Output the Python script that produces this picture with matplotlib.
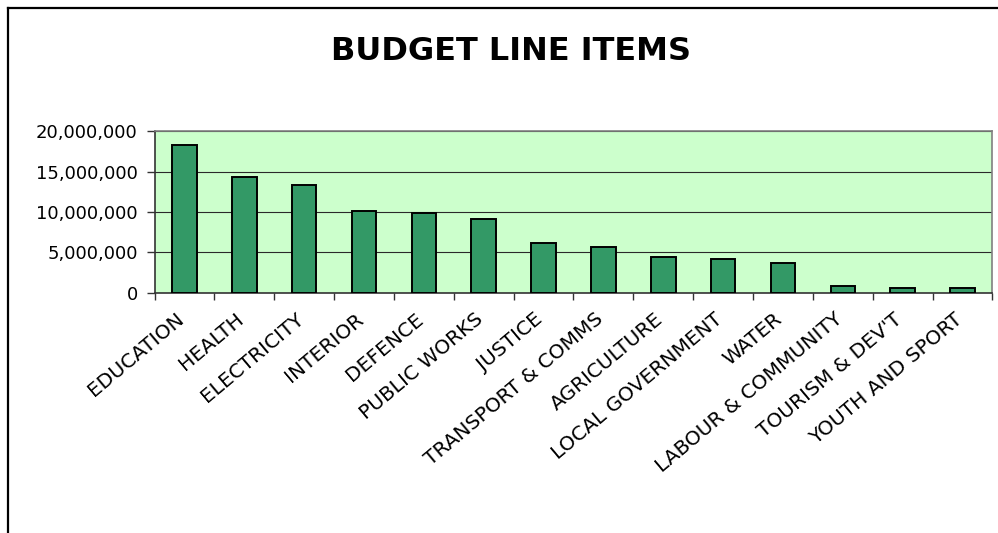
import matplotlib
matplotlib.use("Agg")
import matplotlib.pyplot as plt
from matplotlib.lines import Line2D
from matplotlib.ticker import FuncFormatter, FixedLocator, NullFormatter
import numpy as np

categories = ["EDUCATION", "HEALTH", "ELECTRICITY", "INTERIOR", "DEFENCE",
              "PUBLIC WORKS", "JUSTICE", "TRANSPORT & COMMS", "AGRICULTURE",
              "LOCAL GOVERNMENT", "WATER", "LABOUR & COMMUNITY",
              "TOURISM & DEV'T", "YOUTH AND SPORT"]
values = [18270000, 14280000, 13330000, 10120000, 9880000, 9140000,
          6170000, 5680000, 4440000, 4200000, 3700000, 780000, 530000, 530000]
y_ticks = [0, 5000000, 10000000, 15000000, 20000000]
title = "BUDGET LINE ITEMS"

plt.rcParams['font.family'] = ['DejaVu Sans']

W, H = 998, 533
fig = plt.figure(figsize=(W / 100, H / 100), dpi=100)
ax = fig.add_axes([154.5 / W, 1 - 292.7 / H, (992.5 - 154.5) / W, (292.7 - 131.3) / H])
ax.set_facecolor('#CCFFCC')

x = np.arange(len(categories))
ax.bar(x, values, width=0.41, color='#339966', edgecolor='black', linewidth=1.4, zorder=3)

ax.set_xlim(-0.5, len(categories) - 0.5)
ax.set_ylim(0, 20000000)
ax.yaxis.set_major_locator(FixedLocator(y_ticks))
ax.yaxis.set_major_formatter(FuncFormatter(lambda v, p: f"{int(v):,}"))
ax.grid(axis='y', color='#2a2a2a', linewidth=0.8, zorder=1)
ax.set_axisbelow(True)

# category boundary ticks
ax.xaxis.set_major_locator(FixedLocator(np.arange(len(categories) + 1) - 0.5))
ax.xaxis.set_major_formatter(NullFormatter())
ax.tick_params(axis='x', length=5, width=1, color='#333333')
ax.tick_params(axis='y', length=6, width=1, color='#333333', labelsize=13, pad=6)

for xi, lab in zip(x, categories):
    ax.annotate(lab, xy=(xi, 0), xycoords=('data', 'axes fraction'),
                xytext=(-3, -24), textcoords='offset pixels',
                rotation=40, rotation_mode='anchor', ha='right', va='center',
                fontsize=14.5, annotation_clip=False)

for s in ['top', 'right']:
    ax.spines[s].set_color('#808080')
    ax.spines[s].set_linewidth(1.2)
for s in ['left', 'bottom']:
    ax.spines[s].set_color('#333333')
    ax.spines[s].set_linewidth(1.2)

fig.text(511 / W, 1 - 52 / H, title, ha='center', va='center',
         fontsize=23, fontweight='bold')

# outer chart border (left and top)
fig.add_artist(Line2D([7.5 / W, 7.5 / W], [0, 1 - 7.5 / H], transform=fig.transFigure,
                      color='black', linewidth=1.6))
fig.add_artist(Line2D([7.5 / W, 1], [1 - 7.5 / H, 1 - 7.5 / H], transform=fig.transFigure,
                      color='black', linewidth=1.6))

fig.savefig("out.png", dpi=100)
